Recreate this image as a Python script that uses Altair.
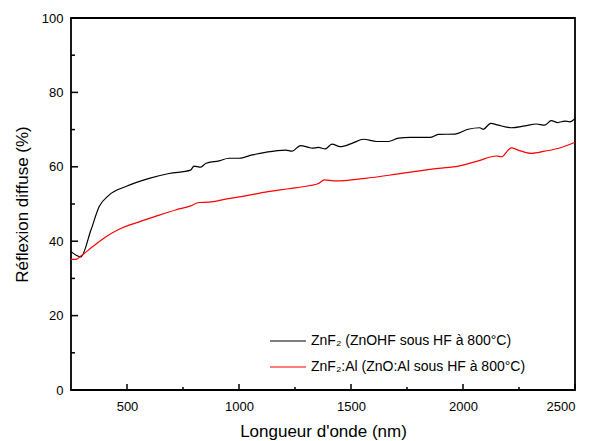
import altair as alt
import pandas as pd

# ---- data ----
wl_znf2 = [250, 294, 339, 376, 420, 495, 599, 688, 784, 799, 829, 851, 911, 955, 1000,
           1059, 1118, 1208, 1237, 1274, 1311, 1326, 1355, 1385, 1415, 1452, 1504, 1556,
           1615, 1667, 1712, 1764, 1853, 1890, 1964, 2023, 2075, 2090, 2124, 2157, 2216,
           2276, 2327, 2365, 2394, 2424, 2454, 2476, 2500]
r_znf2 = [37.2, 35.8, 43.0, 49.3, 52.4, 54.7, 56.9, 58.2, 59.1, 60.2, 59.9, 60.9, 61.6, 62.3, 62.3,
          63.2, 63.9, 64.5, 64.2, 65.7, 65.2, 65.0, 65.2, 64.8, 66.1, 65.4, 66.3, 67.4,
          66.8, 66.8, 67.7, 67.9, 67.9, 68.7, 68.8, 70.1, 70.5, 70.1, 71.7, 71.2, 70.5,
          71.0, 71.5, 71.2, 72.4, 71.9, 72.3, 72.1, 73.0]

wl_al = [250, 272, 294, 346, 406, 465, 554, 643, 717, 784, 821, 866, 940, 1029, 1118,
         1222, 1311, 1355, 1382, 1430, 1563, 1712, 1890, 1979, 2068, 2149, 2171, 2216,
         2246, 2305, 2365, 2439, 2500]
r_al = [35.1, 35.1, 36.0, 38.5, 41.2, 43.2, 45.2, 47.0, 48.4, 49.5, 50.4, 50.5, 51.3, 52.2, 53.2,
        54.1, 54.9, 55.5, 56.5, 56.2, 56.9, 58.1, 59.6, 60.2, 61.6, 62.9, 62.7, 65.1,
        64.5, 63.6, 64.2, 65.2, 66.6]

series_names = ["ZnF\u2082 (ZnOHF sous HF à 800°C)", "ZnF\u2082:Al (ZnO:Al sous HF à 800°C)"]
series_colors = ["#000000", "#ff0000"]

x_major = [500, 1000, 1500, 2000, 2500]
x_minor = [750, 1250, 1750, 2250]
y_major = [0, 20, 40, 60, 80, 100]
y_minor = [10, 30, 50, 70, 90]

W, H = 504, 372
FONT = "Liberation Sans"

df = pd.concat([
    pd.DataFrame({"wl": wl_znf2, "r": r_znf2, "s": series_names[0], "o": range(len(wl_znf2))}),
    pd.DataFrame({"wl": wl_al, "r": r_al, "s": series_names[1], "o": range(len(wl_al))}),
])

xscale = alt.Scale(domain=[250, 2500], nice=False, zero=False)
yscale = alt.Scale(domain=[0, 100], nice=False)

xaxis = alt.Axis(title="Longueur d'onde (nm)", values=x_major, tickSize=0, format="d",
                 labelFlush=True, labelOverlap=False,
                 labelPadding=10, titlePadding=10, labelFontSize=13, titleFontSize=17,
                 grid=False, domain=False, labelColor="black",
                 titleColor="black", titleFontWeight="normal", labelFont=FONT, titleFont=FONT)
yaxis = alt.Axis(title="Réflexion diffuse (%)", values=y_major, tickSize=0, format="d",
                 labelFlush=False, labelOverlap=False,
                 labelPadding=8, titlePadding=10, labelFontSize=13, titleFontSize=17,
                 grid=False, domain=False, labelColor="black",
                 titleColor="black", titleFontWeight="normal", labelFont=FONT, titleFont=FONT)

lines = alt.Chart(df).mark_line(strokeWidth=1.2, interpolate="monotone").encode(
    x=alt.X("wl:Q", scale=xscale, axis=xaxis),
    y=alt.Y("r:Q", scale=yscale, axis=yaxis),
    color=alt.Color("s:N", scale=alt.Scale(domain=series_names, range=series_colors),
                    legend=alt.Legend(title=None, orient="none", legendX=198, legendY=304,
                                      symbolType="stroke", symbolSize=1300, symbolStrokeWidth=1.2,
                                      labelFontSize=14, labelFont=FONT, labelColor="black",
                                      labelLimit=400, rowPadding=-1)),
    order="o:Q",
)

TICK = "#000000"
xmaj = alt.Chart(pd.DataFrame({"wl": x_major})).mark_rule(color=TICK, strokeWidth=1.5).encode(
    x=alt.X("wl:Q", scale=xscale, axis=xaxis), y=alt.value(H), y2=alt.value(H - 6))
xmin = alt.Chart(pd.DataFrame({"wl": x_minor})).mark_rule(color=TICK, strokeWidth=1.5).encode(
    x=alt.X("wl:Q", scale=xscale, axis=xaxis), y=alt.value(H), y2=alt.value(H - 3))
ymaj = alt.Chart(pd.DataFrame({"r": y_major})).mark_rule(color=TICK, strokeWidth=1.5).encode(
    y=alt.Y("r:Q", scale=yscale, axis=yaxis), x=alt.value(0), x2=alt.value(7))
ymin = alt.Chart(pd.DataFrame({"r": y_minor})).mark_rule(color=TICK, strokeWidth=1.5).encode(
    y=alt.Y("r:Q", scale=yscale, axis=yaxis), x=alt.value(0), x2=alt.value(4))

chart = alt.layer(lines, xmaj, xmin, ymaj, ymin).properties(
    width=W, height=H,
    background="white",
    autosize=alt.AutoSizeParams(type="none"),
    padding={"left": 63, "top": 10, "right": 9, "bottom": 51},
).configure_view(stroke="#000000", strokeWidth=1.8)

chart.save("out.html", embed_options={"renderer": "svg", "actions": False})
